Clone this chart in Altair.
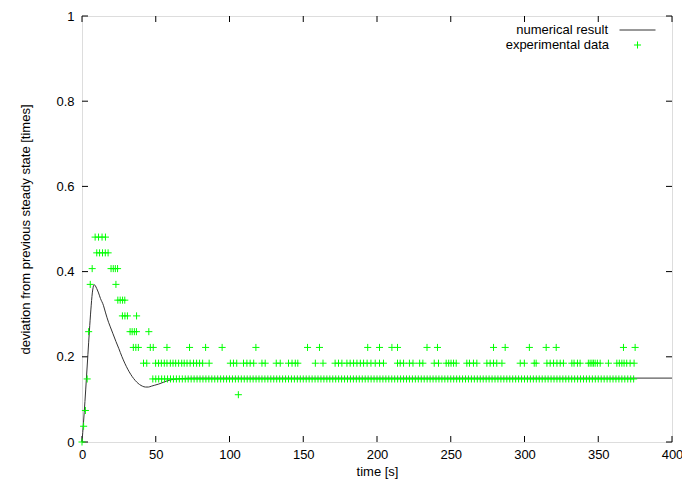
import altair as alt
import pandas as pd

FONT = "Liberation Sans"

# ---------------- numerical result (model curve) ----------------
num_t = [0, 1, 2, 3, 4, 5, 6, 7, 8, 8.5, 9, 10, 11, 12.5, 14.5, 16, 18, 19, 21, 23, 25, 27,
         29, 31, 33, 35, 37, 39, 41, 43, 45, 47, 49, 52, 55, 58, 62, 68, 75, 90, 400]
num_v = [0, 0.045, 0.095, 0.15, 0.205, 0.26, 0.31, 0.35, 0.368, 0.369, 0.367, 0.36, 0.352,
         0.337, 0.321, 0.303, 0.281, 0.272, 0.254, 0.236, 0.219, 0.201, 0.185, 0.171, 0.159,
         0.149, 0.141, 0.135, 0.131, 0.129, 0.129, 0.131, 0.133, 0.136, 0.14, 0.144, 0.147,
         0.149, 0.15, 0.15, 0.15]

# ---------------- experimental data: sample times for each measured level ----------------
t_at_0000 = [0]
t_at_0037 = [1.1]
t_at_0074 = [2.3]
t_at_0111 = [106.0]
t_at_0148 = [3.5,
             48, 50, 52, 54, 56, 58, 60, 62, 64, 66, 68, 70, 72, 74, 76, 78, 80, 82, 84, 86,
             88, 90, 92, 94, 96, 98, 100, 102, 104, 106, 108, 110, 112, 114, 116, 118, 120, 122, 124, 126,
             128, 130, 132, 134, 136, 138, 140, 142, 144, 146, 148, 150, 152, 154, 156, 158, 160, 162, 164, 166,
             168, 170, 172, 174, 176, 178, 180, 182, 184, 186, 188, 190, 192, 194, 196, 198, 200, 202, 204, 206,
             208, 210, 212, 214, 216, 218, 220, 222, 224, 226, 228, 230, 232, 234, 236, 238, 240, 242, 244, 246,
             248, 250, 252, 254, 256, 258, 260, 262, 264, 266, 268, 270, 272, 274, 276, 278, 280, 282, 284, 286,
             288, 290, 292, 294, 296, 298, 300, 302, 304, 306, 308, 310, 312, 314, 316, 318, 320, 322, 324, 326,
             328, 330, 332, 334, 336, 338, 340, 342, 344, 346, 348, 350, 352, 354, 356, 358, 360, 362, 364, 366,
             368, 370, 372, 374]
t_at_0185 = [41.7, 43.9, 49.9, 51.9, 53.8, 55.8, 57.6, 59.9, 61.7, 63.5, 65.5, 67.6, 69.3, 71.2,
             73.3, 75.6, 77.7, 79.7, 81.8, 86.2, 100.6, 102.7, 104.9, 109.5, 111.8, 114.0, 116.4,
             122.0, 124.2, 131.7, 134.4, 140.0, 142.4, 144.6, 146.3, 158.2, 163.4, 171.6, 173.9,
             176.2, 179.6, 181.8, 184.1, 186.4, 188.7, 190.9, 193.3, 195.9, 198.8, 201.7, 204.4,
             213.9, 215.7, 218.0, 222.0, 224.4, 228.9, 231.1, 238.8, 241.7, 246.9, 248.6, 250.2,
             251.9, 253.7, 260.9, 262.7, 265.4, 267.7, 274.5, 276.7, 279.0, 281.2, 284.7, 297.1,
             299.9, 306.6, 307.9, 315.2, 317.4, 319.7, 322.0, 324.2, 326.4, 332.1, 333.6, 335.9,
             337.7, 343.3, 344.5, 345.7, 346.7, 347.9, 349.4, 351.3, 356.9, 362.6, 364.3, 366.0,
             367.5, 369.3, 371.6, 374.3]
t_at_0222 = [34.8, 36.5, 38.2, 46.3, 48.3, 57.6, 72.9, 83.8, 95.0, 117.9, 152.9, 161.0, 193.7,
             201.7, 210.1, 213.9, 233.9, 241.0, 279.0, 286.9, 303.3, 314.7, 321.5, 367.1, 375.0]
t_at_0259 = [4.5, 32.6, 34.0, 35.5, 36.9, 45.3]
t_at_0296 = [27.4, 29.1, 30.8, 37.0]
t_at_0333 = [24.3, 25.9, 27.5, 29.0]
t_at_0370 = [5.6, 23.0]
t_at_0407 = [6.9, 19.7, 21.2, 22.6, 24.1]
t_at_0444 = [10.0, 11.9, 13.9, 15.8, 17.7]
t_at_0481 = [8.9, 11.2, 13.6, 15.9]

levels = [0.0, 0.037, 0.074, 0.111, 0.148, 0.185, 0.222, 0.259, 0.296, 0.333, 0.370, 0.407, 0.444, 0.481]
level_times = [t_at_0000, t_at_0037, t_at_0074, t_at_0111, t_at_0148, t_at_0185, t_at_0222,
               t_at_0259, t_at_0296, t_at_0333, t_at_0370, t_at_0407, t_at_0444, t_at_0481]

x_ticks = [0, 50, 100, 150, 200, 250, 300, 350, 400]
y_ticks = [0, 0.2, 0.4, 0.6, 0.8, 1.0]

num_df = pd.DataFrame({"t": num_t, "v": num_v, "series": "numerical result"})
exp_rows = []
for lv, ts in zip(levels, level_times):
    for t in ts:
        exp_rows.append({"t": t, "v": lv, "series": "experimental data"})
exp_df = pd.DataFrame(exp_rows)
xt_df = pd.DataFrame({"t": x_ticks})
yt_df = pd.DataFrame({"v": y_ticks})

W, H = 590, 426
TICK_X = 6 * 400 / W
TICK_Y = 6 / H

x_scale = alt.Scale(domain=[0, 400], nice=False, zero=False)
y_scale = alt.Scale(domain=[0, 1], nice=False, zero=False)
x_axis = alt.Axis(values=x_ticks, title="time [s]", ticks=False, domain=False, grid=False,
                  labelPadding=6, titlePadding=4, labelFontSize=13, titleFontSize=13,
                  labelFont=FONT, titleFont=FONT, titleFontWeight="normal",
                  labelColor="black", titleColor="black", labelFlush=False)
y_axis = alt.Axis(values=y_ticks, title="deviation from previous steady state [times]",
                  format=".1~f", ticks=False, domain=False, grid=False,
                  labelPadding=8, titlePadding=23, labelFontSize=13, titleFontSize=13,
                  labelFont=FONT, titleFont=FONT, titleFontWeight="normal",
                  labelColor="black", titleColor="black", labelFlush=False)

X = alt.X("t:Q", scale=x_scale, axis=x_axis)
Y = alt.Y("v:Q", scale=y_scale, axis=y_axis)

PLUS = "M-1,0L1,0M0,-1L0,1"

line = alt.Chart(num_df).mark_line(strokeWidth=1, interpolate="monotone").encode(
    x=X, y=Y,
    stroke=alt.Stroke("series:N",
                      scale=alt.Scale(domain=["numerical result"], range=["#333333"]),
                      legend=alt.Legend(title=None, orient="none", legendX=549, legendY=7.5,
                                        padding=0, symbolType="M-4,0L4,0", symbolSize=81,
                                        symbolStrokeWidth=1, labelAlign="right",
                                        labelOffset={"expr": "-36"},
                                        labelFontSize=13, labelFont=FONT, labelColor="black"))
)

pts = alt.Chart(exp_df).mark_point(shape=PLUS, filled=False, strokeWidth=1, size=50,
                                   color="#00ff00", opacity=1).encode(
    x=X, y=Y,
    shape=alt.Shape("series:N",
                    scale=alt.Scale(domain=["experimental data"], range=[PLUS]),
                    legend=alt.Legend(title=None, orient="none", legendX=549, legendY=22.5,
                                      padding=0, symbolSize=50, symbolStrokeWidth=1,
                                      symbolStrokeColor="#00ff00", symbolFillColor="transparent",
                                      labelAlign="right", labelOffset={"expr": "-35"},
                                      labelFontSize=13, labelFont=FONT, labelColor="black"))
)

tick_b = alt.Chart(xt_df).mark_rule(color="black", strokeWidth=1).encode(
    x=X, y=alt.datum(0), y2=alt.datum(TICK_Y))
tick_t = alt.Chart(xt_df).mark_rule(color="black", strokeWidth=1).encode(
    x=X, y=alt.datum(1), y2=alt.datum(1 - TICK_Y))
tick_l = alt.Chart(yt_df).mark_rule(color="black", strokeWidth=1).encode(
    y=Y, x=alt.datum(0), x2=alt.datum(TICK_X))
tick_r = alt.Chart(yt_df).mark_rule(color="black", strokeWidth=1).encode(
    y=Y, x=alt.datum(400), x2=alt.datum(400 - TICK_X))

chart = alt.layer(tick_b, tick_t, tick_l, tick_r, line, pts).properties(
    width=W, height=H,
    autosize=alt.AutoSizeParams(type="none"),
    padding={"left": 74, "top": 8, "right": 10, "bottom": 40},
).configure_view(stroke="black", strokeWidth=1).configure(background="white")

chart.save("out.html", embed_options={"renderer": "svg", "actions": False})
